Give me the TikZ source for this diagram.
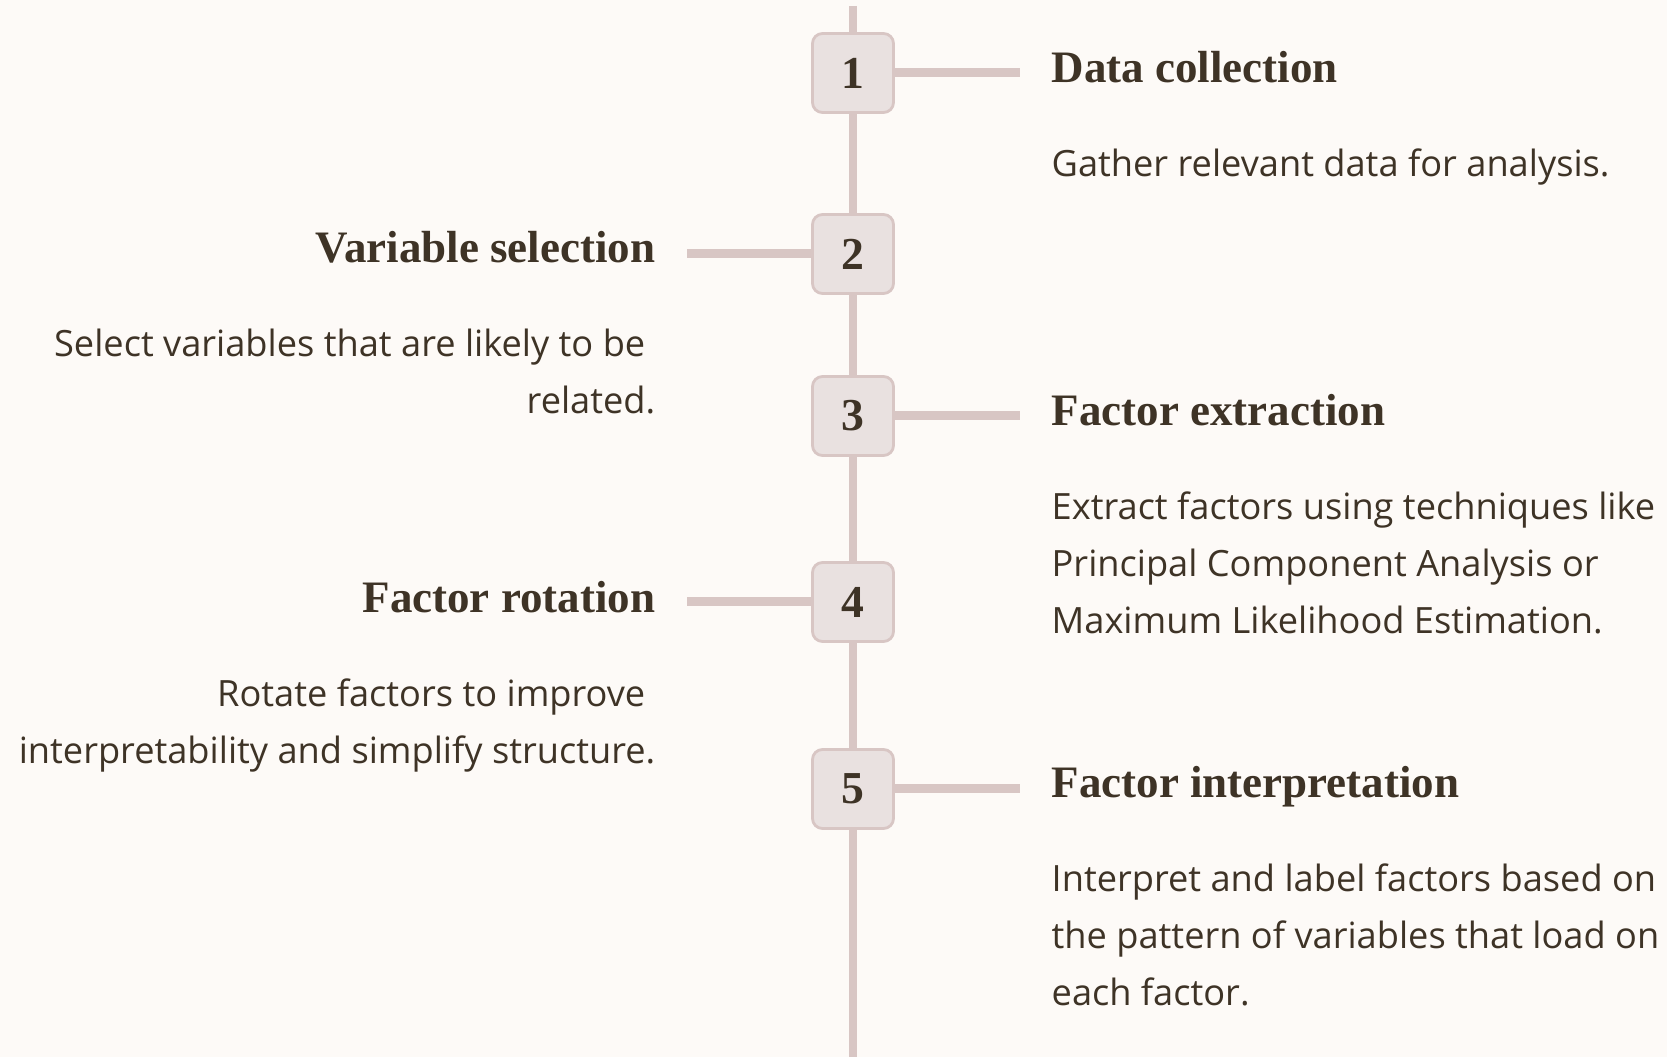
\documentclass[tikz,border=0pt]{standalone}
\usepackage{fontspec}
\setmainfont{Liberation Serif}
\newfontfamily\descfont{Open Sans}
\definecolor{paper}{HTML}{FDFAF7}
\definecolor{rail}{HTML}{D8C6C4}
\definecolor{boxfill}{HTML}{E9E1E0}
\definecolor{ink}{HTML}{3E3326}

\tikzset{
	stepnum/.style={draw=rail, line width=0.8pt, fill=boxfill, rounded corners=0.1cm,
		minimum width=0.81cm, minimum height=0.79cm, inner sep=0pt, text=ink,
		font=\fontsize{13}{13}\selectfont\bfseries},
	steptitle/.style={inner sep=0pt, text=ink, font=\fontsize{12.8}{14}\selectfont\bfseries},
	stepdesc/.style={inner sep=0pt, text=ink, font=\descfont\fontsize{10.3}{16.3}\selectfont},
	spine/.style={draw=rail, line width=0.08cm},
	tick/.style={draw=rail, line width=0.09cm},
}

\begin{document}
\begin{tikzpicture}
	\fill[paper] (0,0) rectangle (16.67,-10.57);
	\useasboundingbox (0,0) rectangle (16.67,-10.57);
	% the timeline
	\coordinate (top) at (8.53,-0.06);
	\coordinate (bottom) at (8.53,-10.57);
	\draw[spine] (top) -- (bottom);
	\node[stepnum] (n1) at (8.53,-0.73) {1};
	\node[stepnum] (n2) at (8.53,-2.54) {2};
	\node[stepnum] (n3) at (8.53,-4.16) {3};
	\node[stepnum] (n4) at (8.53,-6.02) {4};
	\node[stepnum] (n5) at (8.53,-7.89) {5};
	% titles
	\node[steptitle,anchor=base west] (t1) at (10.51,-0.83) {Data collection};
	\node[steptitle,anchor=base east] (t2) at (6.56,-2.63) {Variable selection};
	\node[steptitle,anchor=base west] (t3) at (10.51,-4.26) {Factor extraction};
	\node[steptitle,anchor=base east] (t4) at (6.56,-6.13) {Factor rotation};
	\node[steptitle,anchor=base west] (t5) at (10.51,-7.98) {Factor interpretation};
	\draw[tick] (n1.east) -- ([xshift=-0.31cm]n1.east -| t1.west);
	\draw[tick] (n2.west) -- ([xshift=0.31cm]n2.west -| t2.east);
	\draw[tick] (n3.east) -- ([xshift=-0.31cm]n3.east -| t3.west);
	\draw[tick] (n4.west) -- ([xshift=0.31cm]n4.west -| t4.east);
	\draw[tick] (n5.east) -- ([xshift=-0.31cm]n5.east -| t5.west);
	% descriptions
	\node[stepdesc,anchor=north west,align=left] (d1) at (10.51,-1.48) {Gather relevant data for analysis.};
	\node[stepdesc,anchor=north east,align=right] (d2) at (6.56,-3.28) {Select variables that are likely to be\hspace*{0.1cm}\\related.};
	\node[stepdesc,anchor=north west,align=left] (d3) at (10.51,-4.91) {Extract factors using techniques like\\Principal Component Analysis or\\Maximum Likelihood Estimation.};
	\node[stepdesc,anchor=north east,align=right] (d4) at (6.56,-6.78) {Rotate factors to improve\hspace*{0.1cm}\\interpretability and simplify structure.};
	\node[stepdesc,anchor=north west,align=left] (d5) at (10.51,-8.63) {Interpret and label factors based on\\the pattern of variables that load on\\each factor.};
\end{tikzpicture}
\end{document}
